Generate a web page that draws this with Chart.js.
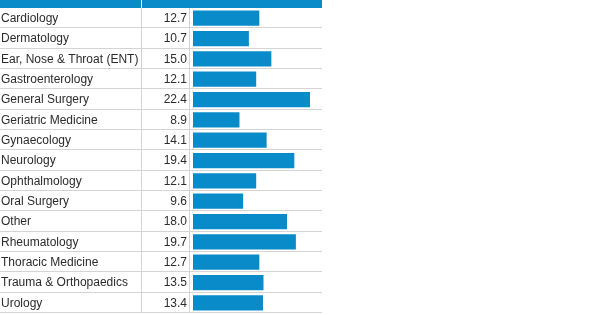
<!DOCTYPE html>
<html>
<head>
<meta charset="utf-8">
<script src="https://cdn.jsdelivr.net/npm/chart.js@4/dist/chart.umd.min.js"></script>
<style>
html,body{margin:0;padding:0;background:#fff;overflow:hidden;}
#wrap{width:600px;height:315px;position:relative;overflow:hidden;}
canvas{display:block;}
</style>
</head>
<body>
<div id="wrap"><canvas id="c" width="600" height="315"></canvas></div>
<script>
const categories = ["Cardiology","Dermatology","Ear, Nose & Throat (ENT)","Gastroenterology","General Surgery","Geriatric Medicine","Gynaecology","Neurology","Ophthalmology","Oral Surgery","Other","Rheumatology","Thoracic Medicine","Trauma & Orthopaedics","Urology"];
const values = [12.7,10.7,15.0,12.1,22.4,8.9,14.1,19.4,12.1,9.6,18.0,19.7,12.7,13.5,13.4];
const valueLabels = values.map(v => v.toFixed(1));

const BLUE = '#0a8bc9';
const LINE = '#d4d4d4';
const TABLE_RIGHT = 322;
const COL1 = 141;
const COL2 = 189;

const tablePlugin = {
  id: 'tablePlugin',
  beforeDatasetsDraw(chart) {
    const ctx = chart.ctx;
    const y = chart.scales.y;
    const area = chart.chartArea;
    ctx.save();
    ctx.strokeStyle = LINE;
    ctx.lineWidth = 1;
    const n = categories.length;
    const step = (area.bottom - area.top) / n;
    for (let i = 1; i < n; i++) {
      const yy = Math.round(area.top + step * i) - 0.5;
      ctx.beginPath();
      ctx.moveTo(0, yy);
      ctx.lineTo(TABLE_RIGHT, yy);
      ctx.stroke();
    }
    // bottom line
    ctx.fillStyle = LINE;
    ctx.fillRect(0, Math.round(area.bottom) - 1, TABLE_RIGHT, 1);
    [COL1, COL2].forEach(x => {
      ctx.beginPath();
      ctx.moveTo(x + 0.5, 8);
      ctx.lineTo(x + 0.5, area.bottom);
      ctx.stroke();
    });
    ctx.font = '12px "Liberation Sans", Arial, sans-serif';
    ctx.fillStyle = '#2b2b2b';
    ctx.textBaseline = 'middle';
    categories.forEach((c, i) => {
      const cy = y.getPixelForValue(i) + 0.5;
      ctx.textAlign = 'left';
      ctx.fillText(c, 1, cy);
      ctx.textAlign = 'right';
      ctx.fillText(valueLabels[i], 187, cy);
    });
    ctx.restore();
  },
  afterDraw(chart) {
    const ctx = chart.ctx;
    ctx.save();
    ctx.fillStyle = BLUE;
    ctx.fillRect(0, 0, COL1, 8);
    ctx.fillRect(COL1 + 1, 0, TABLE_RIGHT - COL1 - 1, 8);
    ctx.restore();
  }
};

new Chart(document.getElementById('c'), {
  type: 'bar',
  data: {
    labels: categories,
    datasets: [{
      data: values,
      backgroundColor: BLUE,
      borderWidth: 0,
      categoryPercentage: 1,
      barPercentage: 0.75
    }]
  },
  options: {
    indexAxis: 'y',
    responsive: false,
    animation: false,
    events: [],
    layout: { padding: { left: 0, top: 8, right: 600 - TABLE_RIGHT, bottom: 2 } },
    plugins: { legend: { display: false }, tooltip: { enabled: false } },
    scales: {
      x: { display: false, min: 0, max: 24.7 },
      y: {
        display: true,
        grid: { display: false, drawTicks: false },
        border: { display: false },
        ticks: { display: false },
        afterFit(scale) { scale.width = 193; }
      }
    }
  },
  plugins: [tablePlugin]
});
</script>
</body>
</html>
